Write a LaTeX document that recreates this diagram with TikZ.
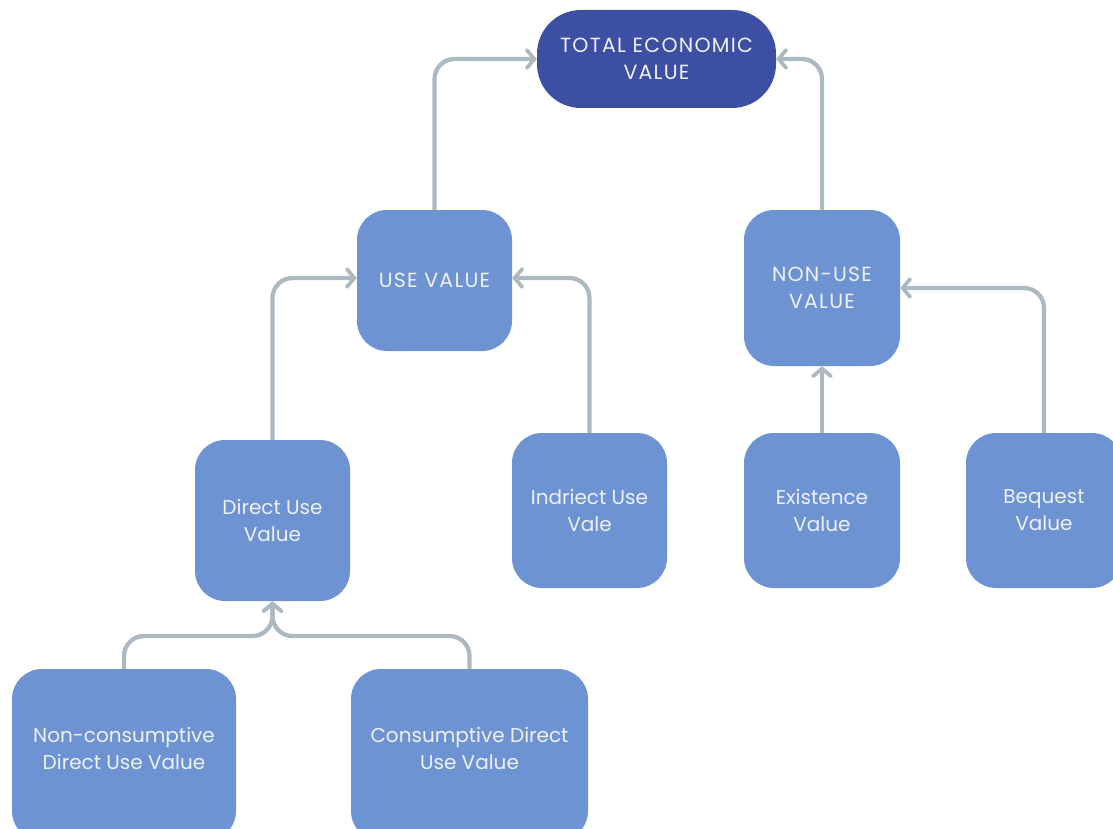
\documentclass[tikz,border=0pt]{standalone}
\usepackage{fontspec}
\setmainfont{Poppins}
\usetikzlibrary{arrows.meta}
\definecolor{boxblue}{HTML}{6D93D3}
\definecolor{darkblue}{HTML}{3D4FA3}
\definecolor{linegray}{HTML}{ADB9C1}
\definecolor{txt}{HTML}{EEF1F8}
\begin{document}
\begin{tikzpicture}[x=1pt,y=-1pt,
  box/.style={rectangle, rounded corners=30pt, fill=boxblue, text=txt, align=center,
    font=\fontsize{20}{27}\selectfont, inner sep=0pt},
  capsfont/.style={font=\fontsize{20.5}{27}\selectfont\addfontfeatures{LetterSpace=6}},
  topbox/.style={box, fill=darkblue, rounded corners=44pt},
  conn/.style={draw=linegray, line width=4.3pt, rounded corners=20pt,
    -{Straight Barb[length=7.5pt,width=18pt,line width=3.8pt,line cap=round]}}
]
\useasboundingbox (0,0) rectangle (1113,829);
\node[topbox, capsfont, minimum width=239pt, minimum height=98pt] (tev) at (656.5,59) {TOTAL ECONOMIC\\VALUE};
\node[box, capsfont, minimum width=155pt, minimum height=141pt] (use) at (434.5,280.5) {USE VALUE};
\node[box, capsfont, minimum width=156pt, minimum height=156pt] (nonuse) at (822,288) {NON-USE\\VALUE};
\node[box, minimum width=155pt, minimum height=161pt] (direct) at (272.5,520.5) {Direct Use\\Value};
\node[box, minimum width=155pt, minimum height=155pt] (indirect) at (589.5,510.5) {Indriect Use\\Vale};
\node[box, minimum width=156pt, minimum height=155pt] (exist) at (822,510.5) {Existence\\Value};
\node[box, minimum width=156pt, minimum height=155pt] (bequest) at (1044,510.5) {Bequest\\Value};
\node[box, minimum width=224pt, minimum height=172pt] (noncons) at (124,755) {};
\node[box] at (124,748.5) {Non-consumptive\\Direct Use Value};
\node[box, minimum width=237pt, minimum height=172pt] (cons) at (469.5,755) {};
\node[box] at (469.5,748.5) {Consumptive Direct\\Use Value};
\coordinate (j) at (272.5,636);
\draw[conn] (use.north) |- (tev.west);
\draw[conn] (nonuse.north) |- (tev.east);
\draw[conn] (direct.north) |- ([yshift=2.5pt]use.west);
\draw[conn] (indirect.north) |- ([yshift=2.5pt]use.east);
\draw[conn] (exist.north) -- (nonuse.south);
\draw[conn] (bequest.north) |- (nonuse.east);
\draw[conn] (noncons.north) |- (j) -- (direct.south);
\draw[conn] (cons.north) |- (j) -- (direct.south);
\end{tikzpicture}
\end{document}
